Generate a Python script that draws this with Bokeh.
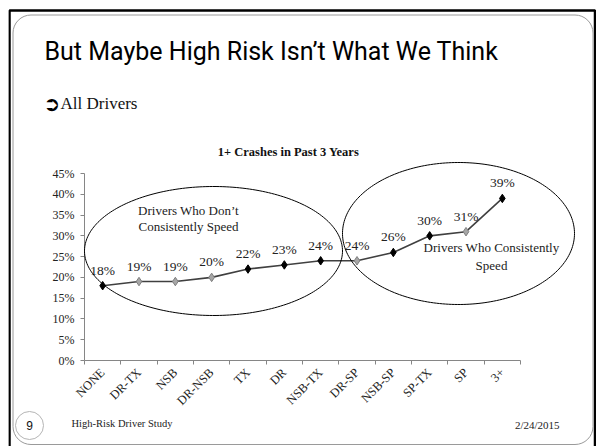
import math
import numpy as np
from bokeh.plotting import figure
from bokeh.models import (FactorRange, Range1d, LinearAxis, CategoricalAxis,
                          FixedTicker, ColumnDataSource, LabelSet, Label, BoxAnnotation,
                          PolyAnnotation)
from bokeh.embed import file_html
from bokeh.resources import INLINE

# --- data -------------------------------------------------------------
categories = ["NONE", "DR-TX", "NSB", "DR-NSB", "TX", "DR", "NSB-TX",
              "DR-SP", "NSB-SP", "SP-TX", "SP", "3+"]
crash_pct = [18, 19, 19, 20, 22, 23, 24, 24, 26, 30, 31, 39]
y_ticks = [0, 5, 10, 15, 20, 25, 30, 35, 40, 45]

# categories whose markers are drawn in light grey
light_markers = {"DR-TX", "NSB", "DR-NSB", "DR-SP", "SP"}

# --- page geometry (pixels) ---------------------------------------------
W, H = 596, 446
FRAME_LEFT = 8                    # canvas column left of the drawing frame
PLOT_L, PLOT_R = 84, 520          # chart axes box inside the slide
PLOT_T, PLOT_B = 173, 360
Y_MAX = 45

SERIF = "Liberation Serif"
TEXT = "#222222"
AXIS = "#868686"

n = len(categories)
px_per_cat = (PLOT_R - PLOT_L) / n
x_pad = (PLOT_L - FRAME_LEFT) / px_per_cat          # equals (W - PLOT_R) / px_per_cat
px_per_pct = (PLOT_B - PLOT_T) / Y_MAX
y_lo = -(H - PLOT_B) / px_per_pct
y_hi = Y_MAX + PLOT_T / px_per_pct

src = ColumnDataSource(dict(
    cat=categories,
    pct=crash_pct,
    label=[f"{v}%" for v in crash_pct],
    fill=["#a6a6a6" if c in light_markers else "#000000" for c in categories],
    edge=["#7f7f7f" if c in light_markers else "#000000" for c in categories],
))

p = figure(width=W, height=H, output_backend="svg", toolbar_location=None,
           x_range=FactorRange(*categories, range_padding=x_pad,
                               range_padding_units="absolute"),
           y_range=Range1d(y_lo, y_hi),
           x_axis_location=None, y_axis_location=None,
           min_border_left=FRAME_LEFT, min_border_right=0,
           min_border_top=0, min_border_bottom=0)
p.outline_line_color = None
p.xgrid.visible = False
p.ygrid.visible = False
p.background_fill_color = "white"
p.border_fill_color = "white"

# --- axes (pinned inside the slide area) ---------------------------------
yax = LinearAxis(ticker=FixedTicker(ticks=y_ticks), fixed_location=0, bounds=(0, Y_MAX),
                 major_label_overrides={t: f"{t}%" for t in y_ticks})
yax.axis_line_color = AXIS
yax.major_tick_line_color = AXIS
yax.major_tick_in = 0
yax.major_tick_out = 4
yax.minor_tick_line_color = None
yax.major_label_standoff = 6
yax.major_label_text_font = SERIF
yax.major_label_text_font_size = "12px"
yax.major_label_text_color = TEXT
p.add_layout(yax, "left")

# tick marks sit on the category boundaries (factor range spans 0..n)
eax = LinearAxis(ticker=FixedTicker(ticks=list(range(n + 1))), fixed_location=0,
                 bounds=(0, n), major_label_overrides={i: "" for i in range(n + 1)})
eax.axis_line_color = AXIS
eax.major_tick_line_color = AXIS
eax.major_tick_in = 0
eax.major_tick_out = 4
eax.minor_tick_line_color = None
eax.major_label_standoff = 0
eax.major_label_text_font_size = "0px"
p.add_layout(eax, "below")

cax = CategoricalAxis(fixed_location=0)
cax.axis_line_color = None
cax.major_tick_line_color = None
cax.major_tick_out = 0
cax.major_tick_in = 0
cax.major_label_orientation = math.pi / 4
cax.major_label_standoff = 10
cax.major_label_text_font = SERIF
cax.major_label_text_font_size = "12.5px"
cax.major_label_text_color = TEXT
p.add_layout(cax, "below")

# --- series -----------------------------------------------------------
p.line(x="cat", y="pct", source=src, line_color="#404040", line_width=1.6)
p.scatter(x="cat", y="pct", source=src, marker="diamond", size=8.5,
          fill_color="fill", line_color="edge", line_width=1)
p.add_layout(LabelSet(x="cat", y="pct", text="label", source=src, y_offset=8,
                      text_align="center", text_baseline="bottom",
                      text_font=SERIF, text_font_size="13.5px", text_color=TEXT))

# --- group outlines ---------------------------------------------------
t = np.linspace(0, 2 * np.pi, 240)
for cx, cy, rx, ry in [(213, 250.5, 129, 64.5), (458, 233, 116, 71)]:
    p.add_layout(PolyAnnotation(xs=list(cx + rx * np.cos(t)), ys=list(cy + ry * np.sin(t)),
                                xs_units="canvas", ys_units="canvas",
                                fill_color=None, line_color="black",
                                line_alpha=1.0, line_width=1))

def text(x, y, s, size, font=SERIF, align="left", baseline="middle", color=TEXT, style="normal"):
    p.add_layout(Label(x=x, y=y, x_units="canvas", y_units="canvas", text=s,
                       text_font=font, text_font_size=size, text_align=align,
                       text_baseline=baseline, text_color=color, text_font_style=style))

text(188, 210, "Drivers Who Don’t", "13px", align="center")
text(188, 226, "Consistently Speed", "13px", align="center")
text(491, 247, "Drivers Who Consistently", "13px", align="center")
text(491, 265, "Speed", "13px", align="center")

text(288, 151, "1+ Crashes in Past 3 Years", "12.5px", align="center", style="bold", color="#111111")

# --- slide frame ------------------------------------------------------
def box(left, right, top, bottom, color, width, radius=0):
    p.add_layout(BoxAnnotation(left=left, right=right, top=top, bottom=bottom,
                               left_units="canvas", right_units="canvas",
                               top_units="canvas", bottom_units="canvas",
                               border_radius=radius, fill_color=None,
                               line_color=color, line_alpha=1.0, line_width=width))

box(9, 594.5, 10, 480, "black", 2.5)
box(12.5, 592.5, 14.5, 444, "#9a9a9a", 1, radius=18)
box(15, 43, 411, 439, "#b5b5b5", 1, radius=14)

text(44, 51, "But Maybe High Risk Isn’t What We Think", "25px",
     font="Roboto", color="#000000")
text(43, 103, "➲", "20px", font="DejaVu Sans", color="#000000")
text(60, 103, "All Drivers", "17px", color="#111111")

text(29, 425, "9", "12px", font="Liberation Sans", align="center", color="#111111")
text(71, 423, "High-Risk Driver Study", "10.5px", color=TEXT)
text(559, 424, "2/24/2015", "11px", align="right", color=TEXT)

open("out.html", "w").write(file_html(p, INLINE))
